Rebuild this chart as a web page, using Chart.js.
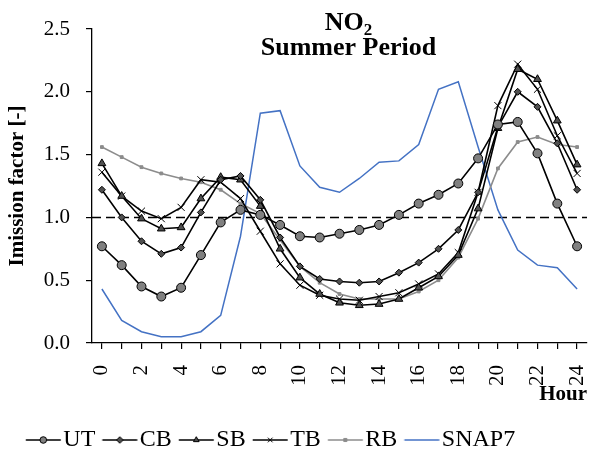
<!DOCTYPE html>
<html>
<head>
<meta charset="utf-8">
<script src="https://cdn.jsdelivr.net/npm/chart.js@4.4.0/dist/chart.umd.min.js"></script>
<style>
  html, body { margin: 0; padding: 0; background: #fff; }
</style>
</head>
<body>
<canvas id="chart" width="593" height="457"></canvas>
<script>
'use strict';

// ── Data ─────────────────────────────────────────────────────────────────────
const HOURS = ['0', '1', '2', '3', '4', '5', '6', '7', '8', '9', '10', '11', '12',
               '13', '14', '15', '16', '17', '18', '19', '20', '21', '22', '23', '24'];

const UT    = [0.77, 0.62, 0.45, 0.37, 0.44, 0.70, 0.96, 1.06, 1.02, 0.94, 0.85, 0.84, 0.87,
               0.90, 0.94, 1.02, 1.11, 1.18, 1.27, 1.47, 1.74, 1.76, 1.51, 1.11, 0.77];
const CB    = [1.22, 1.00, 0.81, 0.71, 0.76, 1.04, 1.30, 1.33, 1.14, 0.84, 0.61, 0.51, 0.49,
               0.48, 0.49, 0.56, 0.64, 0.75, 0.90, 1.20, 1.72, 2.00, 1.88, 1.59, 1.22];
const SB    = [1.43, 1.17, 0.99, 0.91, 0.92, 1.15, 1.32, 1.30, 1.09, 0.75, 0.52, 0.39, 0.32,
               0.30, 0.31, 0.35, 0.44, 0.53, 0.70, 1.07, 1.71, 2.18, 2.10, 1.77, 1.42];
const TB    = [1.36, 1.17, 1.05, 0.99, 1.08, 1.30, 1.28, 1.15, 0.89, 0.63, 0.46, 0.38, 0.35,
               0.34, 0.37, 0.40, 0.47, 0.55, 0.72, 1.20, 1.89, 2.22, 2.02, 1.65, 1.35];
const RB    = [1.56, 1.48, 1.40, 1.35, 1.31, 1.28, 1.22, 1.11, 1.03, 0.82, 0.61, 0.48, 0.39,
               0.35, 0.35, 0.35, 0.41, 0.50, 0.68, 0.99, 1.39, 1.60, 1.64, 1.58, 1.56];
const SNAP7 = [0.43, 0.18, 0.09, 0.05, 0.05, 0.09, 0.22, 0.85, 1.83, 1.85, 1.41, 1.24, 1.20,
               1.31, 1.44, 1.45, 1.58, 2.02, 2.08, 1.56, 1.06, 0.74, 0.62, 0.60, 0.43];

const Y_TICKS = [0.0, 0.5, 1.0, 1.5, 2.0, 2.5];
const REFERENCE_LEVEL = 1.0;

const SERIF = '"Liberation Serif", "Times New Roman", serif';
const BLACK = '#000000';
const GREY  = '#8c8c8c';
const BLUE  = '#4472c4';

// ── Series styles ────────────────────────────────────────────────────────────
const SERIES = [
  { label: 'UT',    data: UT,    line: BLACK, marker: 'circle',   fill: '#808080', edge: BLACK, r: 4.5 },
  { label: 'CB',    data: CB,    line: BLACK, marker: 'rectRot',  fill: '#505050', edge: BLACK, r: 3.5 },
  { label: 'SB',    data: SB,    line: BLACK, marker: 'triangle', fill: '#505050', edge: BLACK, r: 4.5 },
  { label: 'TB',    data: TB,    line: BLACK, marker: 'crossRot', fill: BLACK,     edge: BLACK, r: 5 },
  { label: 'RB',    data: RB,    line: GREY,  marker: 'rect',     fill: GREY,      edge: GREY,  r: 2 },
  { label: 'SNAP7', data: SNAP7, line: BLUE,  marker: false,      fill: BLUE,      edge: BLUE,  r: 0 },
];

// ── Legend swatches: short line with the marker in the middle ────────────────
function drawSwatch(s) {
  const c = document.createElement('canvas');
  c.width = 48;
  c.height = 14;
  const g = c.getContext('2d');
  g.strokeStyle = s.line;
  g.lineWidth = 1.6;
  g.beginPath();
  g.moveTo(9.75, 7);
  g.lineTo(44.75, 7);
  g.stroke();
  if (s.marker) {
    g.fillStyle = s.fill;
    g.strokeStyle = s.edge;
    g.lineWidth = 1;
    Chart.helpers.drawPoint(g, {
      pointStyle: s.marker,
      radius: s.marker === 'rect' ? 2.2 : 3.3,
      rotation: 0,
      borderWidth: 1,
    }, 27.25, 7);
  }
  return c;
}

const swatches = SERIES.map(drawSwatch);

// ── Plugins ──────────────────────────────────────────────────────────────────
const referenceLine = {
  id: 'referenceLine',
  beforeDatasetsDraw(chart) {
    const { ctx, chartArea, scales } = chart;
    const y = scales.y.getPixelForValue(REFERENCE_LEVEL);
    ctx.save();
    ctx.strokeStyle = BLACK;
    ctx.lineWidth = 1.5;
    ctx.setLineDash([9, 5]);
    ctx.beginPath();
    ctx.moveTo(chartArea.left, y);
    ctx.lineTo(chartArea.right, y);
    ctx.stroke();
    ctx.restore();
  },
};

const chartTitle = {
  id: 'chartTitle',
  afterDraw(chart) {
    const { ctx, chartArea } = chart;
    const cx = (chartArea.left + chartArea.right) / 2 + 9;
    ctx.save();
    ctx.fillStyle = BLACK;
    ctx.textBaseline = 'alphabetic';
    // first line: NO with subscript 2
    ctx.font = `bold 26px ${SERIF}`;
    const wNO = ctx.measureText('NO').width;
    ctx.font = `bold 17px ${SERIF}`;
    const w2 = ctx.measureText('2').width;
    const x0 = cx - (wNO + w2) / 2;
    ctx.font = `bold 26px ${SERIF}`;
    ctx.textAlign = 'left';
    ctx.fillText('NO', x0, 30);
    ctx.font = `bold 17px ${SERIF}`;
    ctx.fillText('2', x0 + wNO, 35);
    // second line
    ctx.font = `bold 26px ${SERIF}`;
    ctx.textAlign = 'center';
    ctx.fillText('Summer Period', cx, 55);
    ctx.restore();
  },
};

const legendNudge = {
  id: 'legendNudge',
  afterLayout(chart) {
    const lg = chart.legend;
    if (!lg) return;
    lg.left -= 22;
    lg.right -= 22;
    lg.top += 5;
    lg.bottom += 5;
  },
};

// ── Chart ────────────────────────────────────────────────────────────────────
const ctx = document.getElementById('chart').getContext('2d');

new Chart(ctx, {
  type: 'line',
  data: {
    labels: HOURS,
    datasets: SERIES.map(s => ({
      label: s.label,
      data: s.data,
      borderColor: s.line,
      backgroundColor: s.fill,
      borderWidth: s.line === BLUE ? 1.5 : 1.6,
      tension: 0,
      fill: false,
      pointStyle: s.marker,
      pointRadius: s.r,
      pointBackgroundColor: s.fill,
      pointBorderColor: s.edge,
      pointBorderWidth: 1,
    })),
  },
  options: {
    responsive: false,
    animation: false,
    layout: { padding: { top: 29, left: 0, right: 5, bottom: 0 } },
    scales: {
      x: {
        offset: true,
        grid: { drawOnChartArea: false, drawTicks: true, tickLength: 6, color: BLACK, lineWidth: 1.2 },
        border: { color: BLACK, width: 1.3 },
        ticks: {
          autoSkip: false,
          minRotation: 90,
          maxRotation: 90,
          padding: 16,
          color: BLACK,
          font: { family: SERIF, size: 21 },
          callback(value, index) {
            return index % 2 === 0 ? HOURS[index] : '';
          },
        },
        title: {
          display: true,
          text: 'Hour',
          align: 'end',
          color: BLACK,
          padding: { top: 0, bottom: 6 },
          font: { family: SERIF, size: 21, weight: 'bold' },
        },
        afterFit(scale) {
          scale.height = 70;
          scale.paddingLeft = 0;
          scale.paddingRight = 0;
        },
      },
      y: {
        min: 0,
        max: 2.5,
        afterBuildTicks(scale) { scale.ticks = Y_TICKS.map(v => ({ value: v })); },
        grid: { drawOnChartArea: false, drawTicks: true, tickLength: 6, color: BLACK, lineWidth: 1.2 },
        border: { color: BLACK, width: 1.3 },
        ticks: {
          padding: 16,
          color: BLACK,
          font: { family: SERIF, size: 21 },
          callback(value) { return Number(value).toFixed(1); },
        },
        title: {
          display: true,
          text: 'Imission factor [-]',
          color: BLACK,
          padding: { top: 5, bottom: 0 },
          font: { family: SERIF, size: 21, weight: 'bold' },
        },
        afterFit(scale) { scale.width = 92; },
      },
    },
    plugins: {
      title: { display: false },
      tooltip: { enabled: false },
      legend: {
        position: 'bottom',
        labels: {
          usePointStyle: true,
          pointStyleWidth: 22.5,
          padding: 10,
          color: BLACK,
          font: { family: SERIF, size: 24 },
          generateLabels() {
            return SERIES.map((s, i) => ({
              text: s.label,
              pointStyle: swatches[i],
              fillStyle: s.fill,
              strokeStyle: s.line,
              lineWidth: 0,
              hidden: false,
              datasetIndex: i,
            }));
          },
        },
      },
    },
  },
  plugins: [referenceLine, chartTitle, legendNudge],
});
</script>
</body>
</html>
